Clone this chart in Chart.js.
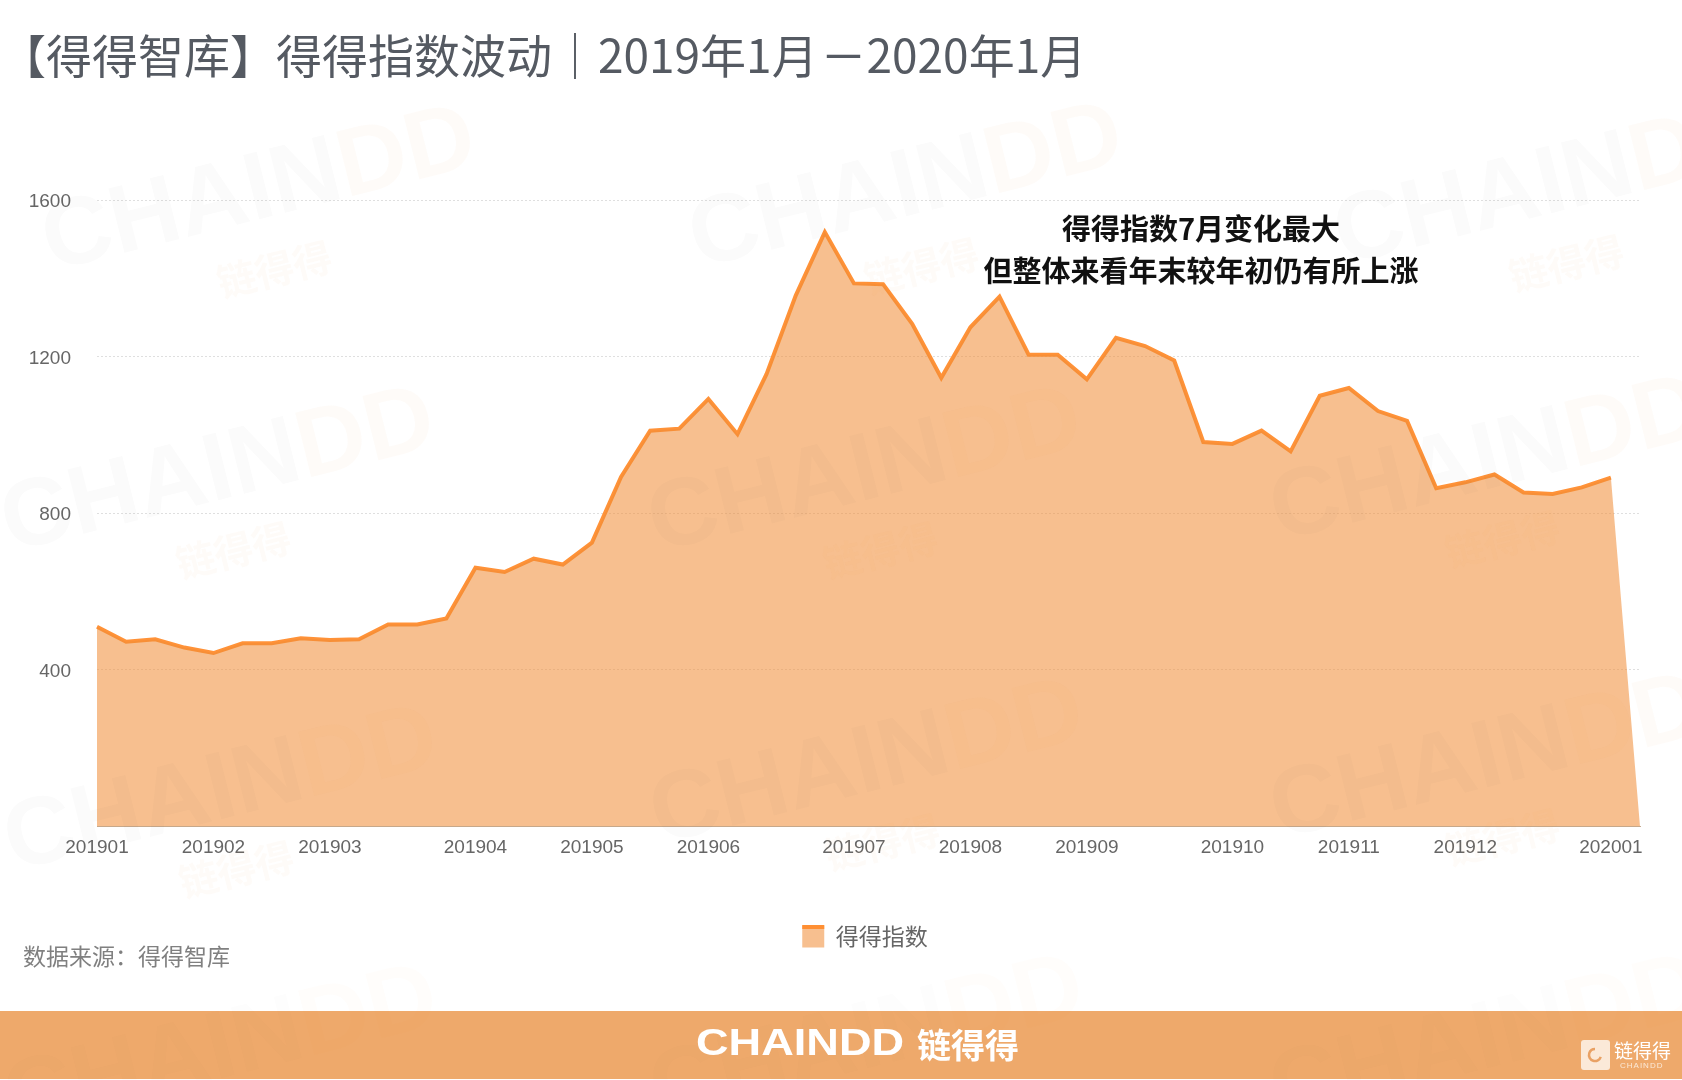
<!DOCTYPE html>
<html>
<head>
<meta charset="utf-8">
<title>得得指数波动</title>
<script src="https://cdn.jsdelivr.net/npm/chart.js@4"></script>
<style>
	html, body { margin:0; padding:0; background:#fff; overflow:hidden; }
	canvas { display:block; }
</style>
</head>
<body>
<canvas id="indexChart" width="1682" height="1080"></canvas>
<script>

// Weekly samples; only the week that opens a month carries a tick label.
const categories = [
	'201901','','','','201902','','','','201903','','','','','201904','','','','201905','','','','201906','','','','',
	'201907','','','','201908','','','','201909','','','','','201910','','','','201911','','','','201912','','','','','202001',''
];

// Values.
const indexValues = [
	510,472,478,457,443,468,468,481,476,478,516,516,531,661,650,684,669,725,893,
	1011,1016,1092,1002,1156,1356,1518,1387,1385,1284,1146,1275,1353,1205,1205,1142,1248,1227,1190,
	982,977,1011,958,1100,1120,1061,1036,864,879,899,853,849,866,891,0
];

const titleText = '【得得智库】得得指数波动｜2019年1月\u200A－2020年1月';
const seriesName = '得得指数';
const sourceText = '数据来源：得得智库';
const noteLines = ['得得指数7月变化最大','但整体来看年末较年初仍有所上涨'];
const yTicks = [400,800,1200,1600];

const CJK = '"Noto Sans CJK SC", "Liberation Sans", sans-serif';
const LATIN = '"Liberation Sans", "Noto Sans CJK SC", sans-serif';

// Watermark centres, page pixels.
const marks = [[263,191],[910,188],[1555,185],[222,472],[869,472],[1491,461],[225,791],[871,764],[1491,759],[225,1050],[871,1040],[1491,1040]];

// Page furniture: footer band, watermarks, note, source line.
const furniture = {
	id:'furniture',
	afterLayout(chart) {
		// Legend sits right of the page centre.
		chart.legend.left += 45;
		chart.legend.right += 45;
	},
	beforeDraw(chart) {
		const c = chart.ctx;
		c.save();
		c.fillStyle = '#eea96b';
		c.fillRect(0,1011,1682,68);
		c.restore();
	},
	afterDatasetsDraw(chart) {
		const c = chart.ctx;
		marks.forEach(m => {
			c.save();
			c.translate(m[0],m[1]);
			c.rotate(-14*Math.PI/180);
			// Fainter where the mark runs under the footer band.
			c.globalAlpha = m[1] > 1000 ? 0.5 : 1;
			c.textBaseline = 'middle';
			c.font = 'bold 96px ' + LATIN;
			c.textAlign = 'left';
			c.fillStyle = 'rgba(60,60,60,0.02)';
			c.fillText('CHAIN',-225,0);
			c.fillStyle = 'rgba(240,130,50,0.035)';
			c.fillText('DD',c.measureText('CHAIN').width-225,0);
			c.textAlign = 'center';
			c.font = 'bold 39px ' + CJK;
			c.fillText('链得得',-8,79);
			c.restore();
		});
	},
	afterDraw(chart) {
		const c = chart.ctx;
		c.save();

		// Orange cap on the legend swatch.
		const box = chart.legend.legendHitBoxes[0];
		c.fillStyle = '#ff8f33';
		c.fillRect(box.left,box.top,22,4);

		// Note over the peak.
		c.fillStyle = '#111';
		c.font = 'bold 29px ' + CJK;
		c.textAlign = 'center';
		c.textBaseline = 'middle';
		c.fillText(noteLines[0],1201,229);
		c.fillText(noteLines[1],1201,271);

		// Source line.
		c.fillStyle = '#808080';
		c.font = '23px ' + CJK;
		c.textAlign = 'left';
		c.fillText(sourceText,23,956);

		// Footer logo.
		c.fillStyle = '#fff';
		c.save();
		c.translate(696,1045);
		c.scale(1.22,1);
		c.font = 'bold 37px ' + LATIN;
		c.fillText('CHAINDD',0,0);
		c.restore();
		c.font = 'bold 34px ' + CJK;
		c.fillText('链得得',917,1045);

		// Small logo, bottom right.
		c.fillStyle = '#fbe9d8';
		c.beginPath();
		c.roundRect(1581,1040,29,30,3);
		c.fill();
		c.strokeStyle = '#e9a164';
		c.lineWidth = 2.5;
		c.beginPath();
		c.arc(1595,1055,6,0.3,Math.PI*1.5);
		c.stroke();
		c.fillStyle = '#fff';
		c.font = '19px ' + CJK;
		c.fillText('链得得',1614,1051);
		c.font = '8px ' + LATIN;
		c.letterSpacing = '1px';
		c.fillStyle = '#fbe9d8';
		c.fillText('CHAINDD',1620,1066);
		c.letterSpacing = '0px';
		c.restore();
	}
};

new Chart(document.getElementById('indexChart').getContext('2d'), {
	type:'line',
	plugins:[furniture],
	data:{
		labels:categories,
		datasets:[
			{
				// Area runs down to zero at the far right.
				label:seriesName,
				data:indexValues,
				borderWidth:0,
				backgroundColor:'rgba(240,140,55,0.56)',
				fill:'origin',
				tension:0,
				pointRadius:0
			},
			{
				// Stroke stops before the drop to zero.
				label:seriesName,
				data:indexValues.slice(0,-1),
				borderColor:'#ff9238',
				borderWidth:4,
				fill:false,
				tension:0,
				pointRadius:0
			}
		]
	},
	options:{
		responsive:false,
		animation:false,
		devicePixelRatio:1,
		layout:{ padding:{ left:0, right:42, top:0, bottom:122 } },
		scales:{
			x:{
				offset:false,
				afterFit:s => { s.height = 84.5; },
				grid:{ display:false },
				border:{ color:'#c4ab92', width:1 },
				ticks:{
					autoSkip:false,
					maxRotation:0,
					minRotation:0,
					padding:2,
					color:'#666',
					font:{ family:LATIN, size:19 }
				}
			},
			y:{
				min:0,
				max:1600,
				afterFit:s => { s.width = 97; },
				afterBuildTicks:s => { s.ticks = yTicks.map(v => ({ value:v })); },
				grid:{ color:'rgba(170,170,170,0.38)', lineWidth:1, drawTicks:false },
				border:{ display:false, dash:[2,2] },
				ticks:{
					padding:26,
					labelOffset:2,
					color:'#666',
					font:{ family:LATIN, size:19 },
					callback:v => String(v)
				}
			}
		},
		plugins:{
			title:{
				display:true,
				text:titleText,
				align:'start',
				color:'#555a62',
				font:{ family:CJK, size:46, weight:'normal', lineHeight:1.2 },
				padding:{ top:28, bottom:116.8 }
			},
			legend:{
				display:true,
				position:'bottom',
				labels:{
					boxWidth:22,
					boxHeight:22,
					color:'#666',
					padding:14,
					font:{ family:CJK, size:23 },
					filter:item => item.datasetIndex === 0
				}
			},
			tooltip:{ enabled:false }
		}
	}
});

</script>
</body>
</html>
